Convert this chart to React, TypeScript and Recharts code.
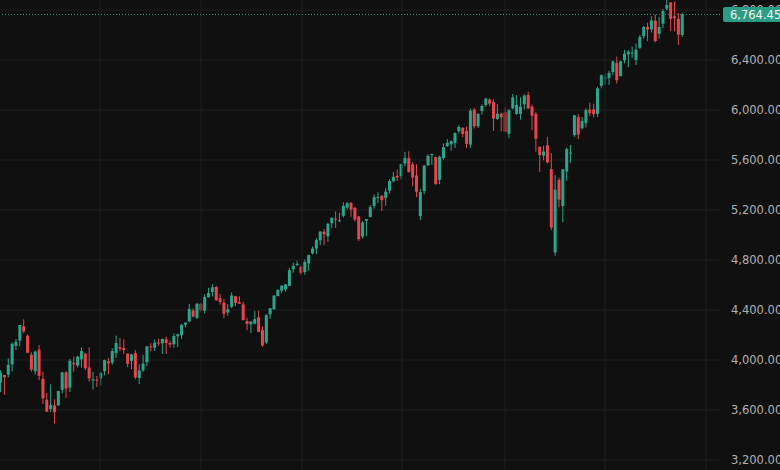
import React from 'react';
import { ComposedChart, Bar, XAxis, YAxis, CartesianGrid, ReferenceLine } from 'recharts';

// Weekly candles, week of 4 Jul 2022 through week of 24 Nov 2025
const opens = [
  3820, 3880, 3883, 3965, 4113, 4155, 4270, 4195, 4041, 3910,
  4083, 3849, 3682, 3609, 3636, 3638, 3762, 3901, 3780, 3977,
  3956, 4005, 4052, 3940, 3845, 3843, 3853, 3910, 3989, 3979,
  4055, 4105, 4096, 4052, 3993, 4055, 3856, 3917, 3982, 4109,
  4098, 4140, 4134, 4166, 4136, 4126, 4190, 4200, 4283, 4308,
  4396, 4337, 4450, 4394, 4502, 4543, 4584, 4492, 4459, 4380,
  4426, 4510, 4462, 4445, 4311, 4285, 4290, 4342, 4239, 4140,
  4365, 4406, 4511, 4554, 4564, 4593, 4725, 4759, 4745, 4704,
  4772, 4853, 4892, 4957, 5026, 4989, 5094, 5130, 5111, 5154,
  5219, 5257, 5218, 5149, 4987, 5114, 5143, 5233, 5305, 5315,
  5297, 5354, 5431, 5473, 5471, 5572, 5614, 5565, 5476, 5151,
  5351, 5558, 5640, 5624, 5442, 5615, 5712, 5726, 5737, 5830,
  5857, 5833, 5723, 6003, 5870, 5992, 6040, 6083, 6063, 5928,
  5970, 5982, 5810, 6014, 5969, 5969, 6046, 6121, 6027, 5968,
  5705, 5635, 5718, 5527, 4860, 5441, 5232, 5508, 5655, 5800,
  5944, 5854, 5897, 6004, 6005, 5969, 6194, 6255, 6255, 6304,
  6375, 6271, 6398, 6445, 6457, 6401, 6498, 6590, 6665, 6644,
  6715, 6610, 6690, 6810, 6860, 6750, 6730, 6600,
];
const highs = [
  3918, 3883, 4013, 4140, 4167, 4280, 4325, 4204, 4062, 4076,
  4119, 3907, 3736, 3806, 3685, 3753, 3905, 3911, 4009, 4028,
  4034, 4100, 4052, 4101, 3906, 3872, 3906, 4003, 4016, 4095,
  4195, 4176, 4165, 4052, 4049, 4079, 3965, 4040, 4110, 4133,
  4164, 4170, 4170, 4186, 4154, 4213, 4212, 4290, 4299, 4448,
  4413, 4458, 4456, 4528, 4578, 4607, 4594, 4528, 4490, 4448,
  4541, 4513, 4511, 4466, 4339, 4311, 4393, 4393, 4268, 4366,
  4415, 4521, 4568, 4598, 4609, 4738, 4778, 4794, 4755, 4803,
  4842, 4907, 4975, 5030, 5048, 5098, 5140, 5189, 5179, 5262,
  5265, 5264, 5222, 5150, 5114, 5128, 5239, 5325, 5342, 5315,
  5376, 5447, 5505, 5524, 5570, 5666, 5669, 5585, 5566, 5370,
  5563, 5644, 5651, 5626, 5636, 5733, 5767, 5757, 5822, 5878,
  5863, 5866, 6012, 6018, 5973, 6044, 6099, 6092, 6085, 6049,
  5979, 6022, 6009, 6128, 6120, 6101, 6128, 6147, 6044, 5986,
  5710, 5715, 5786, 5655, 5481, 5459, 5528, 5700, 5720, 5958,
  5968, 5944, 6016, 6059, 6050, 6187, 6284, 6290, 6315, 6395,
  6427, 6395, 6481, 6481, 6508, 6532, 6600, 6672, 6699, 6750,
  6764, 6745, 6808, 6920, 6865, 6869, 6775, 6780,
];
const lows = [
  3742, 3722, 3860, 3910, 4080, 4110, 4218, 4057, 3907, 3886,
  3838, 3647, 3584, 3584, 3491, 3633, 3733, 3698, 3744, 3906,
  3940, 3938, 3919, 3827, 3764, 3784, 3795, 3877, 3886, 3962,
  4015, 4071, 4047, 3943, 3928, 3846, 3808, 3905, 3951, 4069,
  4072, 4113, 4049, 4048, 4099, 4099, 4103, 4167, 4261, 4306,
  4341, 4328, 4385, 4372, 4499, 4507, 4474, 4443, 4335, 4356,
  4414, 4431, 4448, 4316, 4238, 4216, 4284, 4223, 4104, 4127,
  4329, 4401, 4511, 4537, 4546, 4593, 4699, 4751, 4682, 4682,
  4714, 4845, 4846, 4918, 4920, 4947, 5057, 5056, 5104, 5140,
  5204, 5146, 5107, 4953, 4970, 4991, 5142, 5211, 5257, 5191,
  5234, 5331, 5420, 5433, 5445, 5550, 5497, 5390, 5303, 5119,
  5325, 5552, 5560, 5402, 5407, 5603, 5704, 5674, 5696, 5813,
  5784, 5696, 5697, 5853, 5856, 5963, 6026, 6032, 5832, 5921,
  5829, 5824, 5773, 6003, 5962, 5923, 6004, 6008, 5837, 5666,
  5505, 5598, 5572, 5040, 4835, 5220, 5102, 5434, 5578, 5786,
  5767, 5843, 5861, 5952, 5940, 5943, 6174, 6201, 6201, 6281,
  6212, 6269, 6374, 6343, 6417, 6360, 6489, 6570, 6551, 6620,
  6540, 6570, 6655, 6797, 6631, 6631, 6521, 6585,
];
const closes = [
  3899, 3863, 3962, 4130, 4145, 4280, 4228, 4058, 3924, 4067,
  3873, 3693, 3586, 3640, 3583, 3752, 3901, 3771, 3993, 3965,
  4027, 4072, 3934, 3852, 3845, 3840, 3895, 3999, 3973, 4071,
  4136, 4090, 4079, 3970, 4045, 3861, 3917, 3971, 4109, 4105,
  4138, 4133, 4169, 4136, 4124, 4192, 4205, 4282, 4299, 4409,
  4348, 4450, 4399, 4505, 4536, 4582, 4478, 4464, 4370, 4406,
  4516, 4457, 4450, 4320, 4288, 4308, 4327, 4224, 4117, 4358,
  4415, 4514, 4559, 4595, 4604, 4719, 4754, 4770, 4697, 4784,
  4840, 4891, 4959, 5027, 5006, 5089, 5137, 5124, 5117, 5234,
  5254, 5204, 5123, 4967, 5100, 5128, 5223, 5303, 5305, 5278,
  5347, 5432, 5465, 5460, 5567, 5615, 5505, 5459, 5346, 5344,
  5554, 5634, 5648, 5408, 5626, 5703, 5738, 5751, 5815, 5864,
  5808, 5729, 5995, 5870, 5969, 6032, 6090, 6051, 5931, 5971,
  5942, 5827, 5997, 6101, 6041, 6026, 6115, 6013, 5955, 5770,
  5639, 5668, 5581, 5060, 5363, 5283, 5525, 5687, 5660, 5958,
  5803, 5912, 6000, 5977, 5967, 6173, 6279, 6260, 6297, 6389,
  6238, 6389, 6450, 6467, 6460, 6482, 6584, 6664, 6644, 6716,
  6552, 6664, 6791, 6840, 6729, 6734, 6603, 6764.45,
];

const priceTicks = [3200, 3600, 4000, 4400, 4800, 5200, 5600, 6000, 6400, 6800];
// half-year boundaries expressed in week index units
const halfYearTicks = [25.71, 51.93, 78.16, 104.13, 130.87, 156.84, 183.07];

const data = opens.map((o, i) => ({
  i,
  open: o,
  high: highs[i],
  low: lows[i],
  close: closes[i],
}));
const lastClose = closes[closes.length - 1];

const UP = '#2ea58a';
const DOWN = '#e4474f';
const BG = '#101010';
const GRID = '#1e1e1e';
const TEXT = '#b0b0b0';
const FONT = 'DejaVu Sans, sans-serif';

const fmt = (v: number) =>
  v.toLocaleString('en-US', { minimumFractionDigits: 2, maximumFractionDigits: 2 });

const Candle = (props: any) => {
  const { x, y, width, height, payload } = props;
  if (!payload) return null;
  const { open, close, high, low } = payload;
  const top = Math.min(y, y + height);
  const h = Math.abs(height);
  const ratio = high === low ? 0 : h / (high - low);
  const yOf = (v: number) => top + (high - v) * ratio;
  const color = close >= open ? UP : DOWN;
  const bTop = yOf(Math.max(open, close));
  const bBot = yOf(Math.min(open, close));
  const cx = x + width / 2;
  return (
    <g>
      <line x1={cx} x2={cx} y1={top} y2={top + h} stroke={color} strokeWidth={1} />
      <rect x={x} y={bTop} width={width} height={Math.max(1, bBot - bTop)} fill={color} />
    </g>
  );
};

// Price-axis tick: the last-price tick is drawn as a badge (listed last so it sits on top).
const PriceTick = (props: any) => {
  const { x, y, payload } = props;
  const v = payload.value;
  if (v === lastClose) {
    return (
      <g>
        <rect x={x - 8} y={y - 7.5} width={62} height={15} rx={2} fill="#2b9d85" />
        <text x={x - 1} y={y} dy="0.36em" fill="#f2f2f2" fontSize={11.5} fontFamily={FONT}>
          {fmt(v)}
        </text>
      </g>
    );
  }
  return (
    <text x={x} y={y} dy="0.36em" fill={TEXT} fontSize={11.5} fontFamily={FONT} textAnchor="start">
      {fmt(v)}
    </text>
  );
};

export default function App() {
  return (
    <div style={{ position: 'absolute', left: 0, top: 0, width: 780, height: 470, background: BG, overflow: 'hidden' }}>
      <ComposedChart width={780} height={470} data={data} margin={{ top: 0, right: 0, bottom: 0, left: 0 }}>
        <CartesianGrid stroke={GRID} vertical={false} horizontalValues={priceTicks} />
        <XAxis type="number" dataKey="i" domain={[-0.26, 186.7]} allowDataOverflow hide />
        <YAxis
          orientation="right"
          width={60}
          domain={[3120, 6880]}
          allowDataOverflow
          ticks={[...priceTicks, lastClose]}
          interval={0}
          axisLine={false}
          tickLine={false}
          tickSize={0}
          tickMargin={11}
          tick={<PriceTick />}
        />
        {halfYearTicks.map((t) => (
          <ReferenceLine key={t} x={t} stroke={GRID} ifOverflow="visible" />
        ))}
        <Bar dataKey={(d: any) => [d.low, d.high]} barSize={3} shape={<Candle />} isAnimationActive={false} />
        <ReferenceLine y={lastClose} stroke="#2b8f7b" strokeDasharray="1 2" />
      </ComposedChart>
    </div>
  );
}
